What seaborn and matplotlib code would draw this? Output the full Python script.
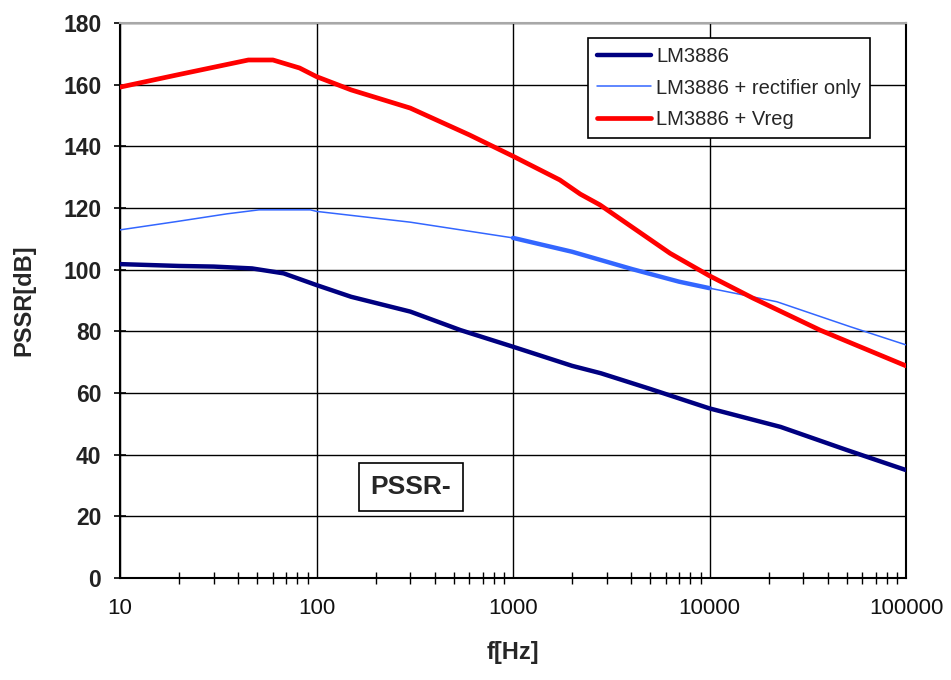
import numpy as np
import pandas as pd
import matplotlib
matplotlib.use("Agg")
import matplotlib.pyplot as plt
import seaborn as sns
from matplotlib.ticker import LogLocator, FixedLocator, NullFormatter

# ---- data ----
f_lm = [10, 20, 30, 47, 68, 100, 150, 300, 540, 1000, 2000, 2800, 5000, 10000, 23000, 50000, 100000]
pssr_lm = [101.8, 101.2, 101.0, 100.4, 98.8, 95.0, 91.2, 86.4, 80.4, 75.0, 68.8, 66.4, 61.3, 55.0, 49.0, 41.5, 35.0]

f_rect = [10, 19.4, 35, 51, 93, 100, 300, 1000, 2000, 4080, 7000, 10000, 22000, 52000, 100000]
pssr_rect = [112.9, 115.6, 118.1, 119.4, 119.4, 118.9, 115.4, 110.3, 105.8, 100.1, 96.1, 94.0, 89.6, 81.5, 75.6]

f_vreg = [10, 20, 45, 60, 82, 100, 150, 300, 600, 1000, 1730, 2200, 2770, 6300, 10000, 16600, 36500, 100000]
pssr_vreg = [159.2, 163.3, 168.0, 168.0, 165.4, 162.6, 158.3, 152.4, 143.7, 136.8, 129.1, 124.5, 121.0, 105.3, 98.0, 90.8, 80.4, 68.8]

labels = ["LM3886", "LM3886 + rectifier only", "LM3886 + Vreg"]
y_ticks = [0, 20, 40, 60, 80, 100, 120, 140, 160, 180]
x_ticks = [10, 100, 1000, 10000, 100000]
x_ticklabels = ["10", "100", "1000", "10000", "100000"]

sns.set_style("white")
plt.rcParams["font.family"] = ["Liberation Sans", "DejaVu Sans"]

fig = plt.figure(figsize=(9.51, 6.8), dpi=100)
ax = fig.add_axes([0.1262, 0.15, 0.8265, 0.8162])

df_lm = pd.DataFrame({"f": f_lm, "v": pssr_lm})
df_rect = pd.DataFrame({"f": f_rect, "v": pssr_rect})
df_vreg = pd.DataFrame({"f": f_vreg, "v": pssr_vreg})
df_thick = df_rect[(df_rect["f"] >= 1000) & (df_rect["f"] <= 10000)]

sns.lineplot(data=df_lm, x="f", y="v", ax=ax, color="#000080", linewidth=3.2,
             label=labels[0], zorder=4)
sns.lineplot(data=df_rect, x="f", y="v", ax=ax, color="#3366FF", linewidth=1.1,
             label=labels[1], zorder=3)
sns.lineplot(data=df_thick, x="f", y="v", ax=ax, color="#3366FF", linewidth=3.2,
             legend=False, zorder=3)
sns.lineplot(data=df_vreg, x="f", y="v", ax=ax, color="#FF0000", linewidth=3.4,
             label=labels[2], zorder=5)

ax.set_xscale("log")
ax.set_xlim(10, 100000)
ax.set_ylim(0, 180)
ax.xaxis.set_major_locator(FixedLocator(x_ticks))
ax.set_xticklabels(x_ticklabels)
ax.xaxis.set_minor_locator(LogLocator(base=10, subs=np.arange(2, 10)))
ax.xaxis.set_minor_formatter(NullFormatter())
ax.set_yticks(y_ticks)
ax.set_yticklabels([str(v) for v in y_ticks])

ax.set_axisbelow(True)
ax.grid(True, which="major", color="black", linewidth=1.0)
ax.tick_params(axis="x", which="major", direction="inout", length=9, width=1.2,
               colors="black", labelsize=16, pad=10)
ax.tick_params(axis="x", which="minor", direction="inout", length=9, width=1.0,
               colors="black", bottom=True)
ax.tick_params(axis="y", which="major", direction="inout", length=9, width=1.2,
               colors="black", labelsize=16.5, pad=9, left=True)
for lab in ax.get_yticklabels():
    lab.set_fontweight("bold")
    lab.set_color("#222222")
for lab in ax.get_xticklabels():
    lab.set_color("#111111")

for s in ["left", "bottom", "right"]:
    ax.spines[s].set_color("black")
    ax.spines[s].set_linewidth(1.5)
ax.spines["top"].set_color("#a8a8a8")
ax.spines["top"].set_linewidth(1.5)

ax.set_xlabel("f[Hz]", fontsize=17, fontweight="bold", labelpad=16)
ax.set_ylabel("PSSR[dB]", fontsize=17, fontweight="bold", labelpad=20)

leg = ax.legend(loc="upper left", bbox_to_anchor=(0.595, 0.973), frameon=True,
                fancybox=False, edgecolor="black", fontsize=14.5, handlelength=2.7,
                handletextpad=0.25, labelspacing=0.62, borderpad=0.45,
                borderaxespad=0)
leg.get_frame().set_linewidth(1.2)
leg.get_frame().set_alpha(1)
leg.set_zorder(10)

ax.text(0.37, 0.164, "PSSR-", transform=ax.transAxes, fontsize=19, fontweight="bold",
        ha="center", va="center", zorder=10,
        bbox=dict(boxstyle="square,pad=0.45", facecolor="white", edgecolor="black",
                  linewidth=1.2))

fig.savefig("out.png", dpi=100, facecolor="white")
